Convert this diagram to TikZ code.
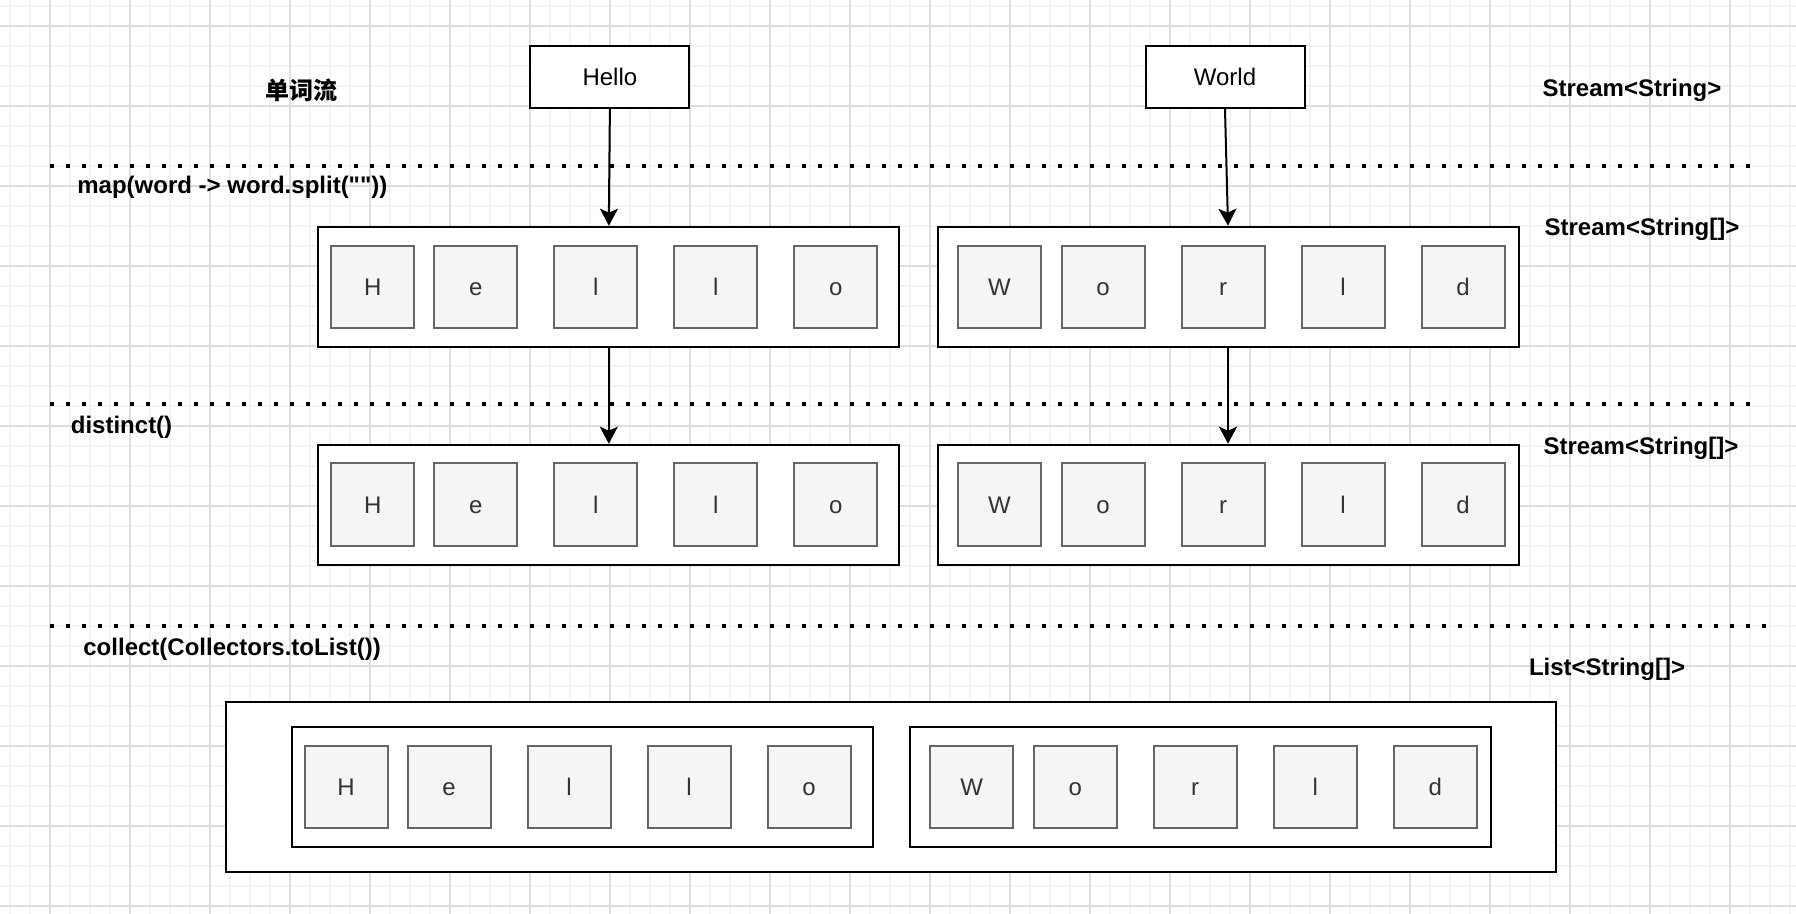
\documentclass[tikz,border=0pt]{standalone}
\usepackage{fontspec}
\setmainfont{Liberation Sans}[Ligatures=TeXOff]
\newfontfamily\cjkfont{Noto Sans CJK SC}
\usetikzlibrary{arrows.meta}
\definecolor{gminor}{HTML}{F3F3F3}
\definecolor{gmajor}{HTML}{DDDDDD}
\definecolor{lfill}{HTML}{F5F5F5}
\definecolor{lstroke}{HTML}{666666}
\definecolor{ltext}{HTML}{333333}
\begin{document}
\begin{tikzpicture}[x=0.5pt,y=-0.5pt,
  gridminor/.style={draw=gminor,line width=1pt},
  gridmajor/.style={draw=gmajor,line width=0.6pt},
  sepline/.style={line width=2pt,dash pattern=on 2pt off 6pt},
  frame/.style={draw=black,fill=white,line width=1pt,inner sep=0pt,minimum width=290.5pt,minimum height=60pt},
  wordbox/.style={draw=black,fill=white,line width=1pt,inner sep=0pt,minimum width=79.5pt,minimum height=31pt,text height=8.6pt,text depth=0pt,font=\fontsize{12pt}{14pt}\selectfont},
  letter/.style={draw=lstroke,fill=lfill,line width=1pt,inner sep=0pt,minimum width=41.5pt,minimum height=41.3pt,text height=8.6pt,text depth=0pt,text=ltext,font=\fontsize{12pt}{14pt}\selectfont},
  lbl/.style={font=\fontsize{12pt}{14pt}\selectfont\bfseries,inner sep=0pt},
  conn/.style={line width=1pt,-{Stealth[length=8.5pt,width=9pt,inset=2pt]}}
]
\useasboundingbox (0,0) rectangle (1796,914);
\fill[white] (0,0) rectangle (1796,914);
% grid
\foreach \x in {10,30,...,1790} \draw[gridminor] (\x,0) -- (\x,914);
\foreach \y in {6,26,...,906} \draw[gridminor] (0,\y) -- (1796,\y);
\foreach \x in {50,130,...,1730} \draw[gridmajor] (\x,0) -- (\x,914);
\foreach \y in {26,106,...,906} \draw[gridmajor] (0,\y) -- (1796,\y);

% separator lines
\coordinate (s1a) at (50,165.7); \coordinate (s1b) at (1752,165.7);
\coordinate (s2a) at (50,404);   \coordinate (s2b) at (1752,404);
\coordinate (s3a) at (50,625.7); \coordinate (s3b) at (1768,625.7);
\draw[sepline] (s1a) -- (s1b);
\draw[sepline] (s2a) -- (s2b);
\draw[sepline] (s3a) -- (s3b);

% labels
\node[lbl] (lcn) at (301,90) {\cjkfont\bfseries 单词流};
\node[lbl] (lt1) at (1632,90) {Stream<String>};
\node[lbl,anchor=west] (lmap) at (77,187) {map(word -> word.split(""))};
\node[lbl] (lt2) at (1642,229) {Stream<String[]>};
\node[lbl,anchor=west] (ldis) at (70.5,427) {distinct()};
\node[lbl] (lt3) at (1641,448) {Stream<String[]>};
\node[lbl,anchor=west] (lcol) at (83,649) {collect(Collectors.toList())};
\node[lbl] (lt4) at (1607,669) {List<String[]>};

% word boxes
\node[wordbox] (hello) at (609.9,76.9) {Hello};
\node[wordbox] (world) at (1225,76.9) {World};

% row 1 and row 2 frames
\node[frame] (r1h) at (608.8,286.7) {};
\node[frame] (r1w) at (1228,286.7) {};
\node[frame] (r2h) at (608.8,504.7) {};
\node[frame] (r2w) at (1228,504.7) {};

% row 3 frames
\node[frame,minimum width=665pt,minimum height=85pt] (r3o) at (890.6,786.7) {};
\node[frame] (r3h) at (582.1,786.8) {};
\node[frame] (r3w) at (1200.2,786.8) {};

% letters
\foreach \c/\d [count=\i] in {H/54.5,e/157.5,l/277.5,l/397.5,o/517.5} {
  \node[letter] (ah\i) at (318.3+\d,287) {\c};
  \node[letter] (bh\i) at (318.3+\d,504.7) {\c};
  \node[letter] (ch\i) at (291.6+\d,787) {\c};
}
\foreach \c/\d [count=\i] in {W/62,o/165.5,r/285.5,l/405.5,d/525.5} {
  \node[letter] (aw\i) at (937.5+\d,287) {\c};
  \node[letter] (bw\i) at (937.5+\d,504.7) {\c};
  \node[letter] (cw\i) at (909.7+\d,787) {\c};
}

% connectors
\draw[conn] (hello.south) -- (r1h.north);
\draw[conn] (world.south) -- (r1w.north);
\draw[conn] (r1h.south) -- (r2h.north);
\draw[conn] (r1w.south) -- (r2w.north);
\end{tikzpicture}
\end{document}
